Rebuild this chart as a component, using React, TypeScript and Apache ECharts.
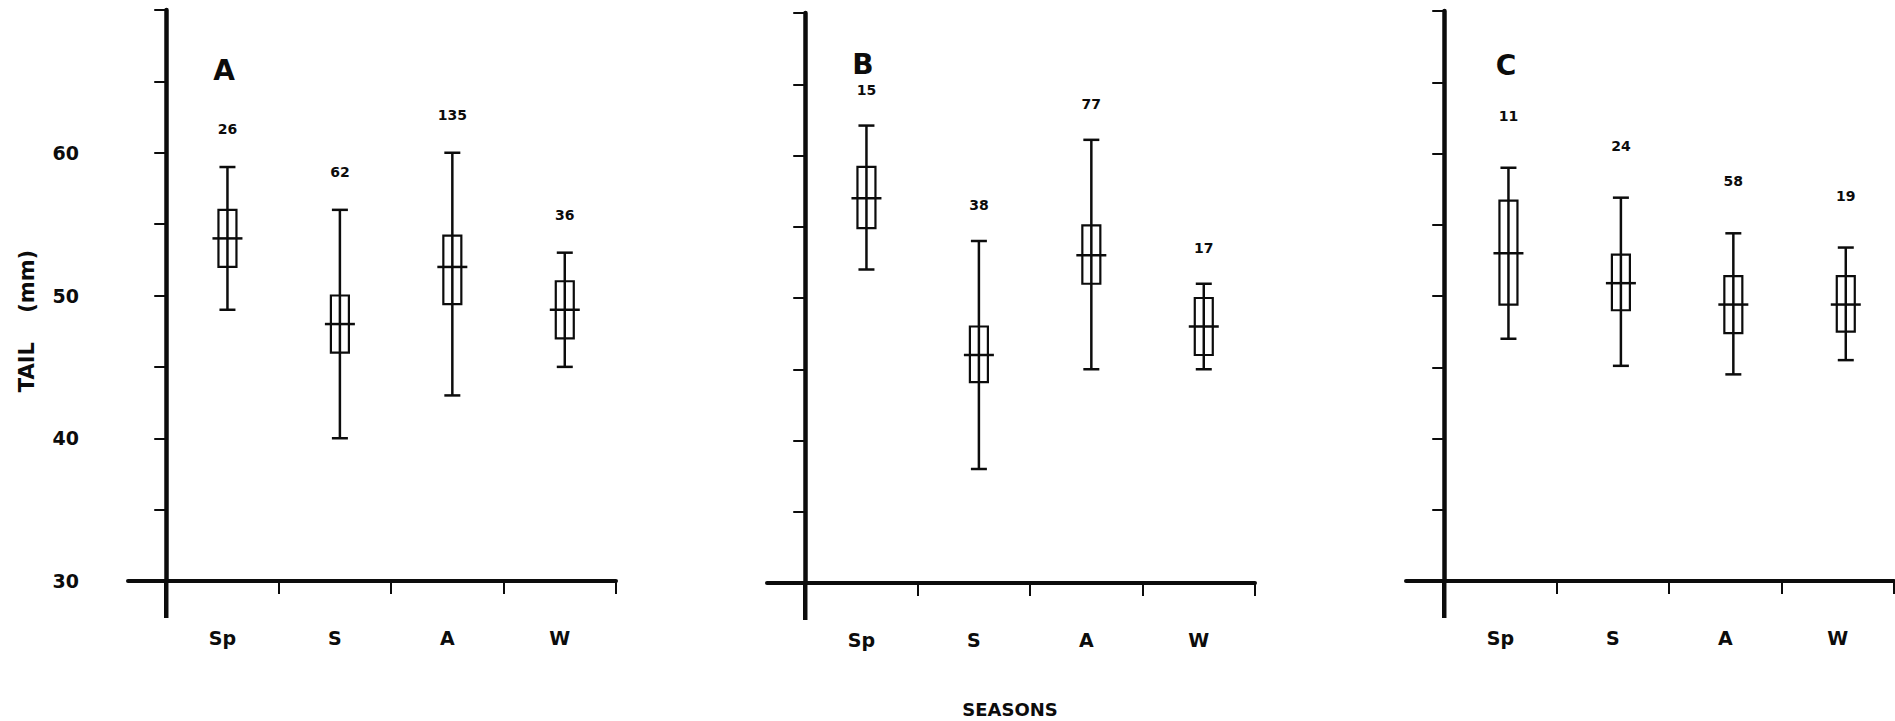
import React, { useEffect, useRef } from "react";
import * as echarts from "echarts";

// Seasons on the x axis of every panel
const SEASONS = ["Sp", "S", "A", "W"];
const PANEL_LETTERS = ["A", "B", "C"];

// Panel A: tail length (mm) – range, box, mean and sample size per season
const A_MAX = [59, 56, 60, 53];
const A_HI = [56, 50, 54.2, 51];
const A_MEAN = [54, 48, 52, 49];
const A_LO = [52, 46, 49.4, 47];
const A_MIN = [49, 40, 43, 45];
const A_N = [26, 62, 135, 36];

// Panel B
const B_MAX = [62.1, 54, 61.1, 51];
const B_HI = [59.2, 48, 55.1, 50];
const B_MEAN = [57, 46, 53, 48];
const B_LO = [54.9, 44.1, 51, 46];
const B_MIN = [52, 38, 45, 45];
const B_N = [15, 38, 77, 17];

// Panel C
const C_MAX = [59, 56.9, 54.4, 53.4];
const C_HI = [56.7, 52.9, 51.4, 51.4];
const C_MEAN = [53, 50.9, 49.4, 49.4];
const C_LO = [49.4, 49, 47.4, 47.5];
const C_MIN = [47, 45.1, 44.5, 45.5];
const C_N = [11, 24, 58, 19];

// Y scale and tick labels
const Y_MIN = 30;
const Y_MAX = 70;
const Y_STEP = 5;
const Y_LABELS = [30, 40, 50, 60];

const INK = "#0c0c0c";
const FONT = "DejaVu Sans";

const PANEL_DATA = [
  [A_MIN, A_LO, A_MEAN, A_HI, A_MAX, A_N],
  [B_MIN, B_LO, B_MEAN, B_HI, B_MAX, B_N],
  [C_MIN, C_LO, C_MEAN, C_HI, C_MAX, C_N],
];

// Layout of the three panels (pixels) and small drawing offsets
const LAYOUT = [
  { left: 128, top: 10, height: 571, shift: 5, gap: 38, letter: [224, 70] },
  { left: 767, top: 13, height: 570, shift: 5, gap: 36, letter: [863, 64] },
  { left: 1406, top: 11, height: 570, shift: 8, gap: 52, letter: [1506, 65] },
];
const GRID_WIDTH = 488;
const X_MIN = -0.34;

function rows(panel: number[][]) {
  const [mn, lo, mean, hi, mx, n] = panel;
  return SEASONS.map((_, i) => [i, mn[i], lo[i], mean[i], hi[i], mx[i], n[i]]);
}

function makeRenderer(shift: number, gap: number) {
  return (params: any, api: any) => {
    const i = api.value(0);
    const xc = i + 0.5;
    const pMin = api.coord([xc, api.value(1)]);
    const pLo = api.coord([xc, api.value(2)]);
    const pMean = api.coord([xc, api.value(3)]);
    const pHi = api.coord([xc, api.value(4)]);
    const pMax = api.coord([xc, api.value(5)]);
    const cx = pMax[0] + shift;
    const stroke = { stroke: INK, lineWidth: 2.5, fill: null };
    const boxW = 18;
    const capW = 16;
    const meanW = 30;
    return {
      type: "group",
      children: [
        {
          type: "line",
          shape: { x1: cx, y1: pMax[1], x2: cx, y2: pMin[1] },
          style: stroke,
        },
        {
          type: "line",
          shape: { x1: cx - capW / 2, y1: pMax[1], x2: cx + capW / 2, y2: pMax[1] },
          style: stroke,
        },
        {
          type: "line",
          shape: { x1: cx - capW / 2, y1: pMin[1], x2: cx + capW / 2, y2: pMin[1] },
          style: stroke,
        },
        {
          type: "rect",
          shape: { x: cx - boxW / 2, y: pHi[1], width: boxW, height: pLo[1] - pHi[1] },
          style: { stroke: INK, lineWidth: 2.2, fill: "transparent" },
        },
        {
          type: "line",
          shape: { x1: cx - meanW / 2, y1: pMean[1], x2: cx + meanW / 2, y2: pMean[1] },
          style: stroke,
        },
        {
          type: "text",
          x: cx,
          y: pMax[1] - gap,
          style: {
            text: String(api.value(6)),
            fill: INK,
            font: `bold 14px "${FONT}"`,
            align: "center",
            verticalAlign: "middle",
            textAlign: "center",
            textVerticalAlign: "middle",
          },
        },
      ],
    };
  };
}

export default function App() {
  const ref = useRef<HTMLDivElement>(null);

  useEffect(() => {
    if (!ref.current) return;
    const chart = echarts.init(ref.current, null, { renderer: "svg" });

    const grid = LAYOUT.map((l) => ({
      left: l.left,
      top: l.top,
      width: GRID_WIDTH,
      height: l.height,
      containLabel: false,
    }));

    const xAxis = LAYOUT.map((_, k) => ({
      type: "value",
      gridIndex: k,
      min: X_MIN,
      max: 4,
      splitLine: { show: false },
      axisLine: { show: true, onZero: false, lineStyle: { color: INK, width: 4 } },
      axisTick: {
        show: true,
        length: 13,
        customValues: [1, 2, 3, 4],
        lineStyle: { color: INK, width: 2 },
      },
      axisLabel: {
        show: true,
        customValues: [0.5, 1.5, 2.5, 3.5],
        formatter: (v: number) => SEASONS[Math.floor(v)] ?? "",
        margin: 47,
        color: INK,
        fontFamily: FONT,
        fontWeight: "bold",
        fontSize: 19,
      },
    }));

    const yAxis = LAYOUT.map((_, k) => ({
      type: "value",
      gridIndex: k,
      min: Y_MIN,
      max: Y_MAX,
      interval: Y_STEP,
      splitLine: { show: false },
      axisLine: { show: true, onZero: true, lineStyle: { color: INK, width: 4.5 } },
      axisTick: { show: true, length: 12, lineStyle: { color: INK, width: 2 } },
      axisLabel: {
        show: k === 0,
        customValues: Y_LABELS,
        margin: 49,
        color: INK,
        fontFamily: FONT,
        fontWeight: "bold",
        fontSize: 19,
      },
    }));

    const series = PANEL_DATA.map((panel, k) => ({
      type: "custom",
      xAxisIndex: k,
      yAxisIndex: k,
      clip: false,
      encode: { x: 0, y: 3 },
      data: rows(panel),
      renderItem: makeRenderer(LAYOUT[k].shift, LAYOUT[k].gap),
    }));

    chart.setOption({
      animation: false,
      backgroundColor: "#ffffff",
      grid,
      xAxis,
      yAxis,
      series,
    });

    // y axes continue a little below the baseline, as drawn by hand
    const extensions = LAYOUT.map((_, k) => {
      const p = chart.convertToPixel({ xAxisIndex: k, yAxisIndex: k }, [0, Y_MIN]) as number[];
      return {
        type: "line",
        shape: { x1: p[0], y1: p[1], x2: p[0], y2: p[1] + 37 },
        style: { stroke: INK, lineWidth: 4.5 },
        z: 10,
      };
    });

    const letters = LAYOUT.map((l, k) => ({
      type: "text",
      x: l.letter[0],
      y: l.letter[1],
      style: {
        text: PANEL_LETTERS[k],
        fill: INK,
        font: `bold 28px "${FONT}"`,
        align: "center",
        verticalAlign: "middle",
        textAlign: "center",
        textVerticalAlign: "middle",
      },
    }));

    chart.setOption({
      graphic: [
        ...extensions,
        ...letters,
        {
          type: "text",
          x: 27,
          y: 321,
          rotation: Math.PI / 2,
          style: {
            text: "TAIL    (mm)",
            fill: INK,
            font: `bold 21px "${FONT}"`,
            align: "center",
            verticalAlign: "middle",
            textAlign: "center",
            textVerticalAlign: "middle",
          },
        },
        {
          type: "text",
          x: 1010,
          y: 709,
          style: {
            text: "SEASONS",
            fill: INK,
            font: `bold 18px "${FONT}"`,
            align: "center",
            verticalAlign: "middle",
            textAlign: "center",
            textVerticalAlign: "middle",
          },
        },
      ],
    });

    return () => chart.dispose();
  }, []);

  return (
    <div
      ref={ref}
      style={{
        position: "absolute",
        left: 0,
        top: 0,
        width: 1895,
        height: 721,
        background: "#ffffff",
      }}
    />
  );
}
